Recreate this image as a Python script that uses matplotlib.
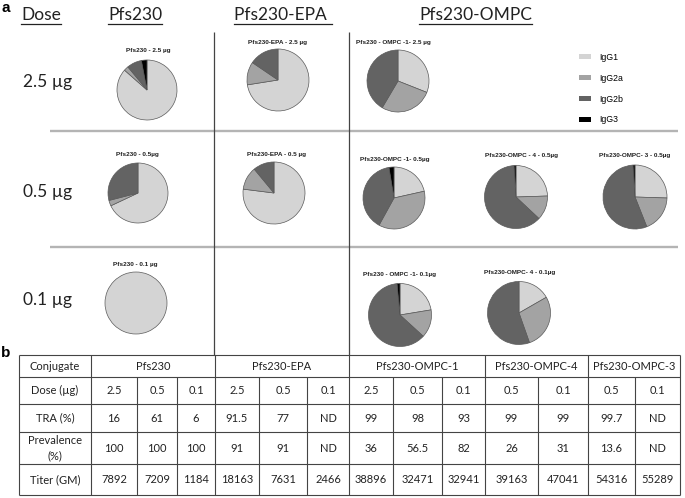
import matplotlib
matplotlib.use('Agg')
import matplotlib.pyplot as plt
from matplotlib.patches import Patch

W, H = 685, 498
plt.rcParams['font.family'] = ['Lato', 'DejaVu Sans']

# --- data ---
subclasses = ['IgG1', 'IgG2a', 'IgG2b', 'IgG3']
sub_colors = ['#d4d4d4', '#a3a3a3', '#636363', '#000000']

column_headers = ['Pfs230', 'Pfs230-EPA ', 'Pfs230-OMPC']
dose_labels = ['2.5 µg', '0.5 µg', '0.1 µg']

pie_titles = ['Pfs230 - 2.5 µg', 'Pfs230-EPA - 2.5 µg', 'Pfs230 - OMPC -1- 2.5 µg',
              'Pfs230 - 0.5µg', 'Pfs230-EPA - 0.5 µg', 'Pfs230-OMPC -1- 0.5µg',
              'Pfs230-OMPC - 4 - 0.5µg', 'Pfs230-OMPC- 3 - 0.5µg',
              'Pfs230 - 0.1 µg', 'Pfs230 - OMPC -1- 0.1µg', 'Pfs230-OMPC- 4 - 0.1µg']
# percentages IgG1, IgG2a, IgG2b, IgG3
pfs230_25 = [86.5, 2.5, 8, 3]
epa_25 = [72.5, 12, 15.5, 0]
ompc1_25 = [31, 27.5, 41.5, 0]
pfs230_05 = [68, 3, 29, 0]
epa_05 = [77, 12, 11, 0]
ompc1_05 = [21.5, 36.5, 39.4, 2.6]
ompc4_05 = [24.5, 12.5, 62, 1]
ompc3_05 = [25.5, 18.5, 55, 1]
pfs230_01 = [100, 0, 0, 0]
ompc1_01 = [22.4, 14.4, 61.7, 1.5]
ompc4_01 = [16.7, 27.9, 55.4, 0]
pie_values = [pfs230_25, epa_25, ompc1_25, pfs230_05, epa_05, ompc1_05,
              ompc4_05, ompc3_05, pfs230_01, ompc1_01, ompc4_01]
# pie centre x, y, radius (px), title x, title y
pie_layout = [(147, 90, 30, 148, 50), (278, 80, 31, 278, 42), (398, 81, 31, 393, 42),
              (138, 193, 30, 137, 154), (274, 193, 31, 277, 154), (394, 198, 31, 395, 159),
              (516, 197, 31.5, 522, 155), (635, 197, 32, 635, 155),
              (136, 303, 31, 135, 264), (400, 315, 31.5, 400, 274), (519, 313, 31.5, 520, 272)]

conjugates = ['Pfs230', 'Pfs230-EPA', 'Pfs230-OMPC-1', 'Pfs230-OMPC-4', 'Pfs230-OMPC-3']
group_sizes = [3, 3, 3, 2, 2]
row_labels = ['Conjugate', 'Dose (µg)', 'TRA (%)', 'Prevalence\n(%)', 'Titer (GM)']
doses = ['2.5', '0.5', '0.1', '2.5', '0.5', '0.1', '2.5', '0.5', '0.1', '0.5', '0.1', '0.5', '0.1']
tra = ['16', '61', '6', '91.5', '77', 'ND', '99', '98', '93', '99', '99', '99.7', 'ND']
prevalence = ['100', '100', '100', '91', '91', 'ND', '36', '56.5', '82', '26', '31', '13.6', 'ND']
titer = ['7892', '7209', '1184', '18163', '7631', '2466', '38896', '32471', '32941',
         '39163', '47041', '54316', '55289']

fig = plt.figure(figsize=(W / 100, H / 100), dpi=100)
ax = fig.add_axes([0, 0, 1, 1])
ax.set_xlim(0, W)
ax.set_ylim(H, 0)
ax.axis('off')

# panel labels
ax.text(2, 8, 'a', fontsize=11, fontweight='bold', family='Liberation Sans', va='center')
ax.text(1, 353, 'b', fontsize=11, fontweight='bold', family='Liberation Sans', va='center')

# headers (underlined)
hdr_texts = [ax.text(41, 15, 'Dose', fontsize=12.5, ha='center', va='center', color='#222222')]
for x, lab in zip([135, 283, 476], column_headers):
    hdr_texts.append(ax.text(x, 15, lab, fontsize=12.5, ha='center', va='center', color='#222222'))
for y, lab in zip([82, 192, 300], dose_labels):
    ax.text(23, y, lab, fontsize=12.5, ha='left', va='center', color='#222222')

fig.canvas.draw()
inv = ax.transData.inverted()
for t in hdr_texts:
    bb = t.get_window_extent()
    (x0, _), (x1, _) = inv.transform([(bb.x0, bb.y0), (bb.x1, bb.y1)])
    ax.plot([x0, x1], [23.5, 23.5], color='#222222', lw=0.9)

# grid lines of panel a
ax.hlines([131, 247], 50, 678, color='#b4b4b4', lw=1.7)
ax.vlines([214, 349], 32, 355, color='#444444', lw=0.9)

# pies
for (cx, cy, r, tx, ty), title, vals in zip(pie_layout, pie_titles, pie_values):
    pax = fig.add_axes([(cx - r - 1) / W, 1 - (cy + r + 1) / H, (2 * r + 2) / W, (2 * r + 2) / H])
    v = [p for p in vals if p > 0]
    c = [col for p, col in zip(vals, sub_colors) if p > 0]
    pax.pie(v, colors=c, startangle=90, counterclock=False, radius=1,
            wedgeprops=dict(edgecolor='#5a5a5a', linewidth=0.5))
    lim = (r + 1) / r
    pax.set_xlim(-lim, lim)
    pax.set_ylim(-lim, lim)
    pax.axis('off')
    ax.text(tx, ty, title, fontsize=4.6, fontweight='bold',
            family='Liberation Sans', ha='center', va='center', color='#222222')

# legend
handles = [Patch(facecolor=col, edgecolor='none') for col in sub_colors]
ax.legend(handles, subclasses, loc='upper left', bbox_to_anchor=(571 / W, 1 - 45 / H),
          frameon=False, prop={'family': 'Liberation Sans', 'size': 6.3},
          handlelength=1.4, handleheight=0.55, handletextpad=0.9, labelspacing=1.35)

# table b
col_edges = [19, 91, 137, 177, 215, 259, 307, 349, 393, 442, 485, 538, 588, 635, 680]
row_edges = [355, 377, 404, 432, 464, 495]
line_kw = dict(color='#444444', lw=0.8)
ax.hlines(row_edges, col_edges[0], col_edges[-1], **line_kw)
# vertical lines: full height at group boundaries, sub-columns below the header row
group_bounds = [0]
for g in group_sizes:
    group_bounds.append(group_bounds[-1] + g)
for i, x in enumerate(col_edges):
    if i <= 1 or (i - 1) in group_bounds:
        ax.vlines(x, row_edges[0], row_edges[-1], **line_kw)
    else:
        ax.vlines(x, row_edges[1], row_edges[-1], **line_kw)

tkw = dict(fontsize=8.0, ha='center', va='center', color='#222222')
for j, lab in enumerate(row_labels):
    yc = (row_edges[j] + row_edges[j + 1]) / 2
    ax.text((col_edges[0] + col_edges[1]) / 2, yc, lab, linespacing=1.5, **tkw)
for k, name in enumerate(conjugates):
    x0 = col_edges[1 + group_bounds[k]]
    x1 = col_edges[1 + group_bounds[k + 1]]
    ax.text((x0 + x1) / 2, (row_edges[0] + row_edges[1]) / 2, name, **tkw)
for j, row in enumerate([doses, tra, prevalence, titer]):
    yc = (row_edges[j + 1] + row_edges[j + 2]) / 2
    for i, val in enumerate(row):
        ax.text((col_edges[i + 1] + col_edges[i + 2]) / 2, yc, val, **tkw)

fig.savefig('out.png', dpi=100, facecolor='white')
